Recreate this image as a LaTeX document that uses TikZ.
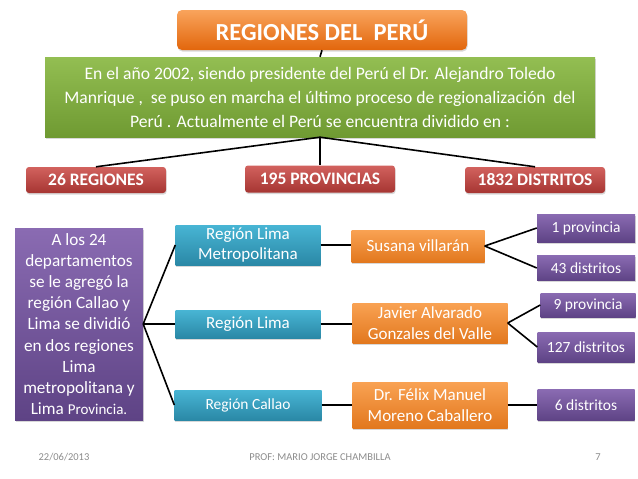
\documentclass[tikz,border=0pt]{standalone}
\usepackage{fontspec}
\setmainfont{Carlito}
\usetikzlibrary{shadows}

\definecolor{titleTop}{HTML}{F9A45C}
\definecolor{titleBot}{HTML}{E2660C}
\definecolor{greenTop}{HTML}{93BE52}
\definecolor{greenBot}{HTML}{6F9A32}
\definecolor{redTop}{HTML}{D2625E}
\definecolor{redBot}{HTML}{A63532}
\definecolor{purpTop}{HTML}{8A6BB2}
\definecolor{purpBot}{HTML}{5E4385}
\definecolor{cyanTop}{HTML}{48B5D4}
\definecolor{cyanBot}{HTML}{2A88A6}
\definecolor{nameTop}{HTML}{F9A253}
\definecolor{nameBot}{HTML}{E2781E}
\definecolor{footGray}{HTML}{8C8C8C}

\begin{document}
\begin{tikzpicture}[x=1pt,y=-1pt,
    box/.style={text=white,align=center,inner sep=0pt,
      drop shadow={shadow xshift=0.6pt,shadow yshift=-1.6pt,opacity=0.3}},
    titlebox/.style={box,rounded corners=5pt,top color=titleTop,bottom color=titleBot},
    introbox/.style={box,top color=greenTop,bottom color=greenBot},
    countbox/.style={box,rounded corners=3pt,top color=redTop,bottom color=redBot},
    notebox/.style={box,top color=purpTop,bottom color=purpBot},
    regionbox/.style={box,top color=cyanTop,bottom color=cyanBot},
    namebox/.style={box,top color=nameTop,bottom color=nameBot},
    link/.style={line width=1.6pt,black},
    foot/.style={text=footGray,font=\fontsize{10.5}{12}\selectfont}]

    % Page
    \useasboundingbox (0,0) rectangle (638,479);
    \fill[white] (0,0) rectangle (638,479);

    % Title and introduction
    \node[titlebox,minimum width=290pt,minimum height=40pt,
      font=\fontsize{24.5}{28}\bfseries\selectfont] (title) at (322,30) {REGIONES DEL\ \ PERÚ};
    \node[introbox,minimum width=550pt,minimum height=80pt,
      font=\fontsize{17.6}{24}\selectfont] (intro) at (320,97)
      {En el año 2002, siendo presidente del Perú el Dr. Alejandro Toledo\\
       Manrique ,\ \ se puso en marcha el último proceso de regionalización\ \ del\\
       Perú . Actualmente el Perú se encuentra dividido en :};

    % Counts
    \node[countbox,minimum width=140pt,minimum height=26pt,
      font=\fontsize{17.5}{20}\bfseries\selectfont] (regiones) at (96,180) {26 REGIONES};
    \node[countbox,minimum width=150pt,minimum height=27pt,
      font=\fontsize{17.5}{20}\bfseries\selectfont] (provincias) at (320,179) {195 PROVINCIAS};
    \node[countbox,minimum width=140pt,minimum height=26pt,
      font=\fontsize{17.5}{20}\bfseries\selectfont] (distritos) at (535,180) {1832 DISTRITOS};

    % Note on the new regions
    \node[notebox,minimum width=128pt,minimum height=192pt,
      font=\fontsize{17.2}{21.2}\selectfont] (nota) at (79,324)
      {A los 24\\ departamentos\\ se le agregó la\\ región Callao y\\ Lima se dividió\\
       en dos regiones\\ Lima\\ metropolitana y\\ Lima {\fontsize{15}{18}\selectfont Provincia.}};

    % Regions
    \node[regionbox,minimum width=145pt,minimum height=40pt,
      font=\fontsize{17}{20}\selectfont] (metro) at (248,245) {Región Lima\\ Metropolitana};
    \node[regionbox,minimum width=145pt,minimum height=28pt,
      font=\fontsize{17}{20}\selectfont] (lima) at (248,324) {Región Lima};
    \node[regionbox,minimum width=147pt,minimum height=30pt,
      font=\fontsize{15.5}{18}\selectfont] (callao) at (248,405) {Región Callao};

    % Authorities
    \node[namebox,minimum width=133pt,minimum height=32pt,
      font=\fontsize{17}{20}\selectfont] (susana) at (418,246) {Susana villarán};
    \node[namebox,minimum width=155pt,minimum height=40pt,
      font=\fontsize{17}{20.5}\selectfont] (javier) at (430,323) {Javier Alvarado\\ Gonzales del Valle};
    \node[namebox,minimum width=155pt,minimum height=46pt,
      font=\fontsize{17}{20.5}\selectfont] (felix) at (430,405) {Dr. Félix Manuel\\ Moreno Caballero};

    % Provinces and districts
    \node[notebox,minimum width=98pt,minimum height=28pt,
      font=\fontsize{15.5}{18}\selectfont] (prov1) at (586,228) {1 provincia};
    \node[notebox,minimum width=98pt,minimum height=25pt,
      font=\fontsize{15.5}{18}\selectfont] (dist43) at (586,268) {43 distritos};
    \node[notebox,minimum width=95pt,minimum height=24pt,
      font=\fontsize{15.5}{18}\selectfont] (prov9) at (588,305) {9 provincia};
    \node[notebox,minimum width=97pt,minimum height=30pt,
      font=\fontsize{15.5}{18}\selectfont] (dist127) at (586,347) {127 distritos};
    \node[notebox,minimum width=97pt,minimum height=31pt,
      font=\fontsize{15.5}{18}\selectfont] (dist6) at (586,405) {6 distritos};

    % Connectors
    \draw[link] (title.south) -- (intro.north);
    \draw[link] (intro.south) -- (regiones.north);
    \draw[link] (intro.south) -- (provincias.north);
    \draw[link] (intro.south) -- (distritos.north);
    \draw[link] (nota.east) -- (metro.west);
    \draw[link] (nota.east) -- (lima.west);
    \draw[link] (nota.east) -- (callao.west);
    \draw[link] (metro.east) -- (metro.east -| susana.west);
    \draw[link] (lima.east) -- (lima.east -| javier.west);
    \draw[link] (callao.east) -- (callao.east -| felix.west);
    \draw[link] (susana.east) -- (prov1.west);
    \draw[link] (susana.east) -- (dist43.west);
    \draw[link] (javier.east) -- (prov9.west);
    \draw[link] (javier.east) -- (dist127.west);
    \draw[link] (felix.east) -- (dist6.west);

    % Footer
    \node[foot] (fecha) at (64,457) {22/06/2013};
    \node[foot] (autor) at (320,457) {PROF: MARIO JORGE CHAMBILLA};
    \node[foot] (pagina) at (598,457) {7};

\end{tikzpicture}
\end{document}
